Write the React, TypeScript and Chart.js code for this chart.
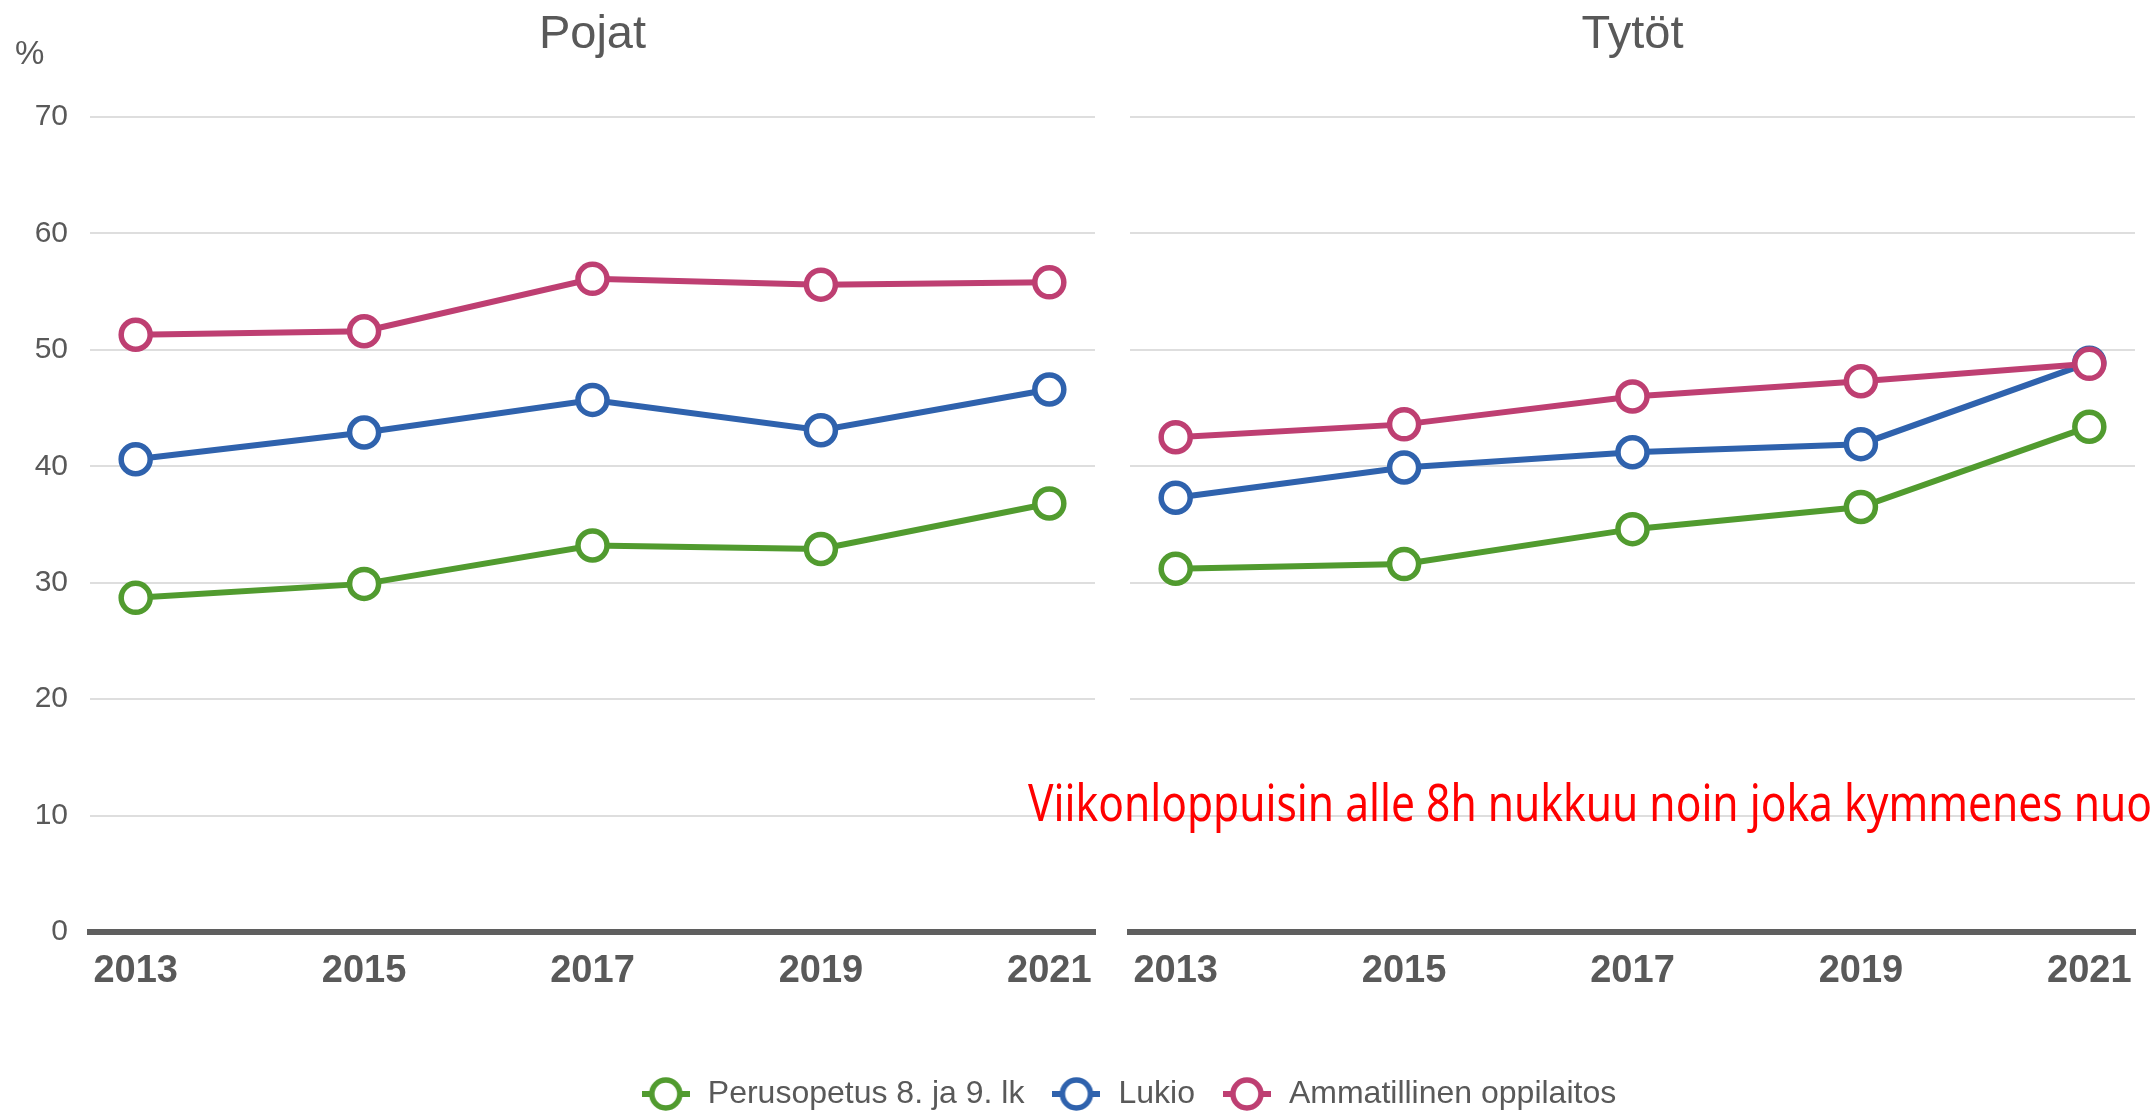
import { useEffect, useRef } from "react";
import { Chart, registerables } from "chart.js";

Chart.register(...registerables);

// ---------- data ----------
const years = [2013, 2015, 2017, 2019, 2021];
const seriesLabels = ["Perusopetus 8. ja 9. lk", "Lukio", "Ammatillinen oppilaitos"];
const seriesColors = ["#519b2f", "#2f62ad", "#be3f72"];

const pojatPerusopetus = [28.7, 29.9, 33.2, 32.9, 36.8];
const pojatLukio = [40.6, 42.9, 45.7, 43.1, 46.6];
const pojatAmmatillinen = [51.3, 51.6, 56.1, 55.6, 55.8];

const tytotPerusopetus = [31.2, 31.6, 34.6, 36.5, 43.4];
const tytotLukio = [37.3, 39.9, 41.2, 41.9, 48.9];
const tytotAmmatillinen = [42.5, 43.6, 46.0, 47.3, 48.8];

const panelTitles = ["Pojat", "Tytöt"];
const yUnitLabel = "%";
const noteText = "Viikonloppuisin alle 8h nukkuu noin joka kymmenes nuo";

const yMin = 0;
const yMax = 70;
const yStep = 10;
const xMin = 2012.6;
const xMax = 2021.4;

// ---------- style ----------
const FONT = "'Liberation Sans', Arial, sans-serif";
const GRID = "#dedede";
const AXIS = "#5f5f5f";
const TEXT = "#595959";

function makeDatasets(series: number[][]) {
  return series.map((vals, i) => ({
    label: seriesLabels[i],
    data: years.map((x, j) => ({ x, y: vals[j] })),
    borderColor: seriesColors[i],
    backgroundColor: seriesColors[i],
    borderWidth: 6,
    tension: 0,
    pointRadius: 14.5,
    pointHoverRadius: 14.5,
    pointBorderWidth: 5.5,
    pointHoverBorderWidth: 5.5,
    pointBackgroundColor: "#ffffff",
    pointBorderColor: seriesColors[i],
    order: 2 - i,
  }));
}

function xScale(height: number) {
  return {
    type: "linear",
    min: xMin,
    max: xMax,
    afterBuildTicks: (s: any) => {
      s.ticks = years.map((v) => ({ value: v }));
    },
    afterFit: (s: any) => {
      s.height = height;
    },
    grid: { display: false, drawTicks: false },
    border: { display: true, color: AXIS, width: 6 },
    ticks: {
      color: TEXT,
      font: { family: FONT, size: 38, weight: "bold" },
      padding: 17,
      maxRotation: 0,
      autoSkip: false,
      callback: (v: any) => String(v),
    },
  };
}

function yScale(width: number, showLabels: boolean) {
  return {
    type: "linear",
    min: yMin,
    max: yMax,
    afterFit: (s: any) => {
      s.width = width;
    },
    grid: { color: GRID, lineWidth: 2, drawTicks: false },
    border: { display: false },
    ticks: {
      display: showLabels,
      stepSize: yStep,
      color: TEXT,
      font: { family: FONT, size: 30 },
      padding: 22,
    },
  };
}

function titlePlugin(title: string, extra?: (ctx: CanvasRenderingContext2D, chart: any) => void) {
  return {
    id: "panelText",
    afterDraw(chart: any) {
      const { ctx, chartArea } = chart;
      ctx.save();
      ctx.fillStyle = TEXT;
      ctx.font = `47px ${FONT}`;
      ctx.textAlign = "center";
      ctx.textBaseline = "alphabetic";
      ctx.fillText(title, (chartArea.left + chartArea.right) / 2, 48);
      ctx.restore();
      if (extra) extra(ctx, chart);
    },
  };
}

function makeKey(color: string) {
  const c = document.createElement("canvas");
  c.width = 48;
  c.height = 38;
  const g = c.getContext("2d")!;
  g.strokeStyle = color;
  g.lineWidth = 6;
  g.beginPath();
  g.moveTo(0, 19);
  g.lineTo(48, 19);
  g.stroke();
  g.lineWidth = 5.5;
  g.beginPath();
  g.arc(24, 19, 14, 0, Math.PI * 2);
  g.fillStyle = "#ffffff";
  g.fill();
  g.stroke();
  return c;
}

export default function App() {
  const leftRef = useRef<HTMLCanvasElement>(null);
  const rightRef = useRef<HTMLCanvasElement>(null);

  useEffect(() => {
    const keys = seriesColors.map(makeKey);

    const left = new Chart(leftRef.current!, {
      type: "line",
      data: { datasets: makeDatasets([pojatPerusopetus, pojatLukio, pojatAmmatillinen]) as any },
      options: {
        animation: false,
        responsive: false,
        events: [],
        layout: { padding: { top: 117, left: 0, right: 15, bottom: 0 } },
        scales: { x: xScale(68) as any, y: yScale(90, true) as any },
        plugins: { legend: { display: false }, tooltip: { enabled: false } },
      },
      plugins: [
        titlePlugin(panelTitles[0], (ctx) => {
          ctx.save();
          ctx.fillStyle = TEXT;
          ctx.font = `33px ${FONT}`;
          ctx.textAlign = "left";
          ctx.textBaseline = "alphabetic";
          ctx.fillText(yUnitLabel, 15, 64);
          ctx.restore();
        }),
      ],
    });

    const right = new Chart(rightRef.current!, {
      type: "line",
      data: { datasets: makeDatasets([tytotPerusopetus, tytotLukio, tytotAmmatillinen]) as any },
      options: {
        animation: false,
        responsive: false,
        events: [],
        layout: { padding: { top: 117, left: 115, right: 14, bottom: 0 } },
        scales: { x: xScale(120) as any, y: yScale(1015, false) as any },
        plugins: {
          tooltip: { enabled: false },
          legend: {
            display: true,
            position: "bottom",
            labels: {
              usePointStyle: true,
              pointStyleWidth: 52,
              padding: 26,
              color: TEXT,
              font: { family: FONT, size: 32 },
              generateLabels: (chart: any) =>
                chart.data.datasets.map((ds: any, i: number) => ({
                  text: ds.label,
                  pointStyle: keys[i],
                  fillStyle: "rgba(0,0,0,0)",
                  strokeStyle: "rgba(0,0,0,0)",
                  lineWidth: 0,
                  hidden: false,
                  datasetIndex: i,
                  fontColor: TEXT,
                })),
            },
          },
        },
      },
      plugins: [
        titlePlugin(panelTitles[1], (ctx) => {
          ctx.save();
          ctx.fillStyle = "#ff0000";
          ctx.font = `51px 'Noto Sans', 'Open Sans', sans-serif`;
          ctx.textAlign = "left";
          ctx.textBaseline = "alphabetic";
          const w = ctx.measureText(noteText).width;
          const sx = 1124 / w;
          ctx.translate(1028, 821);
          ctx.scale(sx, 1);
          ctx.fillText(noteText, 0, 0);
          ctx.restore();
        }),
      ],
    });

    return () => {
      left.destroy();
      right.destroy();
    };
  }, []);

  return (
    <div
      style={{
        position: "fixed",
        left: 0,
        top: 0,
        width: 2155,
        height: 1112,
        overflow: "hidden",
        background: "#ffffff",
      }}
    >
      <canvas
        ref={leftRef}
        width={1115}
        height={1000}
        style={{ position: "absolute", left: 0, top: 0, width: 1115, height: 1000, zIndex: 1 }}
      />
      <canvas
        ref={rightRef}
        width={2155}
        height={1120}
        style={{ position: "absolute", left: 0, top: 0, width: 2155, height: 1120, zIndex: 2 }}
      />
    </div>
  );
}
